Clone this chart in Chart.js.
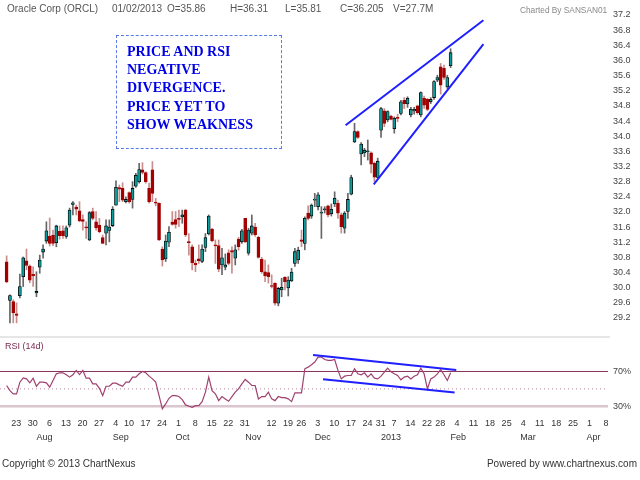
<!DOCTYPE html>
<html>
<head>
<meta charset="utf-8">
<script src="https://cdn.jsdelivr.net/npm/chart.js"></script>
<style>
  body { margin: 0; background: #fff; }
  #wrap { position: relative; width: 640px; height: 480px; overflow: hidden;
          font-family: "Liberation Sans", Arial, sans-serif; }
  .t { position: absolute; white-space: nowrap; font-size: 10px; line-height: 12px; color: #555; }
  #priceChart { position: absolute; left: 0; top: 0; }
  #rsiChart { position: absolute; left: 0; top: 337px; }
  #sep { position: absolute; left: 0; top: 336px; width: 610px; height: 2px; background: #e6e6e6; }
  #note { position: absolute; left: 116px; top: 35px; width: 166px; height: 114px; box-sizing: border-box;
          border: 1.5px dashed #5a78e6; padding: 7px 0 0 10px;
          font-family: "Liberation Serif", "Times New Roman", serif; font-weight: bold;
          font-size: 14px; line-height: 18.2px; color: #0000e6; }
</style>
</head>
<body>
<div id="wrap">
  <canvas id="priceChart" width="640" height="337"></canvas>
  <div id="sep"></div>
  <canvas id="rsiChart" width="640" height="143"></canvas>

  <div class="t" style="left:7px;top:3px;">Oracle Corp (ORCL)</div>
  <div class="t" style="left:112px;top:3px;">01/02/2013</div>
  <div class="t" id="hO" style="left:167px;top:3px;"></div>
  <div class="t" id="hH" style="left:230px;top:3px;"></div>
  <div class="t" id="hL" style="left:285px;top:3px;"></div>
  <div class="t" id="hC" style="left:340px;top:3px;"></div>
  <div class="t" style="left:393px;top:3px;">V=27.7M</div>
  <div class="t" style="left:520px;top:4px;font-size:8.3px;color:#888;">Charted By SANSAN01</div>

  <div id="note">PRICE AND RSI<br>NEGATIVE<br>DIVERGENCE.<br>PRICE YET TO<br>SHOW WEAKNESS</div>

  <div class="t" style="left:5px;top:340px;font-size:9px;color:#7b2b50;">RSI (14d)</div>
  <div class="t" style="left:2px;top:458px;color:#333;">Copyright © 2013 ChartNexus</div>
  <div class="t" style="right:3px;top:458px;color:#333;">Powered by www.chartnexus.com</div>
</div>

<script>
  // daily candles, trading days 19 Jul 2012 .. 1 Feb 2013 (index = trading day)
  var opens = [
    30.68, 29.66, 29.63, 29.31, 29.79, 30.29, 30.71, 30.57, 30.35, 29.86,
    30.54, 30.94, 31.23, 31.36, 31.38, 31.19, 31.49, 31.5, 31.35, 31.65,
    32.2, 32.13, 32.03, 31.8, 31.6, 31.26, 32.01, 31.74, 31.65, 31.32,
    31.44, 31.51, 31.64, 32.18, 32.64, 32.62, 32.27, 32.51, 32.33, 32.68,
    32.8, 33.11, 33.04, 32.62, 33.11, 32.26, 32.23, 31.02, 30.76, 31.2,
    31.73, 31.8, 31.83, 31.87, 32.05, 31.22, 31.08, 30.64, 30.76, 30.69,
    31.06, 31.42, 31.55, 31.13, 31.11, 30.6, 30.54, 30.92, 30.98, 30.78,
    31.28, 31.21, 31.83, 30.91, 31.44, 31.6, 31.33, 30.75, 30.42, 30.4,
    30.05, 30.12, 29.59, 29.94, 30.27, 29.99, 30.18, 30.64, 30.73, 31.26,
    31.17, 31.97, 31.89, 32.31, 32.14, 31.97, 32.05, 32.16, 31.95, 32.21,
    32.23, 31.92, 31.57, 32.01, 32.47, 33.85, 34.12, 33.53, 33.56, 33.59,
    33.56, 33.28, 32.91, 34.16, 34.67, 34.43, 34.53, 34.2, 34.49, 34.6,
    34.95, 34.85, 34.56, 34.67, 34.8, 34.56, 35.0, 34.97, 34.91, 35.02,
    35.48, 35.83, 35.79, 35.3, 35.86
  ];
  var highs = [
    30.84, 29.81, 29.68, 29.6, 30.36, 30.81, 31.02, 30.6, 30.55, 30.42,
    30.86, 31.13, 31.74, 31.84, 31.52, 31.65, 31.63, 31.63, 31.63, 32.1,
    32.27, 32.18, 32.27, 31.92, 31.74, 32.01, 32.1, 32.01, 31.83, 31.39,
    31.79, 31.79, 32.14, 32.82, 32.71, 32.77, 32.4, 32.53, 32.8, 33.02,
    33.28, 33.3, 33.06, 32.76, 33.33, 32.36, 32.24, 31.08, 31.39, 31.61,
    32.01, 32.01, 32.05, 32.05, 32.07, 31.43, 31.13, 30.73, 31.13, 31.13,
    31.43, 31.92, 31.57, 31.26, 31.26, 31.04, 30.89, 31.0, 31.08, 31.13,
    31.33, 31.54, 31.83, 31.57, 31.92, 31.7, 31.36, 30.8, 30.73, 30.6,
    30.34, 30.13, 30.01, 30.25, 30.29, 30.29, 30.51, 31.04, 31.07, 31.52,
    31.87, 32.16, 32.21, 32.49, 32.51, 32.14, 32.14, 32.18, 32.21, 32.53,
    32.31, 31.97, 32.01, 32.49, 32.97, 34.34, 34.14, 33.83, 33.68, 33.9,
    33.59, 33.32, 33.42, 34.76, 34.73, 34.67, 34.56, 34.51, 34.58, 34.95,
    35.02, 35.04, 34.76, 34.76, 34.82, 35.17, 35.06, 35.0, 35.02, 35.47,
    35.61, 35.92, 35.88, 35.61, 36.31
  ];
  var lows = [
    30.13, 29.07, 29.07, 29.07, 29.73, 30.03, 30.47, 30.13, 30.03, 29.76,
    30.38, 30.78, 31.17, 31.1, 31.11, 31.08, 31.28, 31.3, 31.3, 31.6,
    31.92, 31.92, 31.74, 31.52, 31.3, 31.24, 31.79, 31.52, 31.45, 31.17,
    31.13, 31.21, 31.61, 32.18, 32.27, 32.27, 32.24, 32.23, 32.1, 32.65,
    32.76, 33.0, 32.76, 32.23, 32.27, 32.16, 31.24, 30.57, 30.69, 31.08,
    31.65, 31.57, 31.61, 31.7, 31.35, 30.86, 30.47, 30.42, 30.64, 30.66,
    30.95, 31.39, 31.21, 30.64, 30.42, 30.34, 30.47, 30.6, 30.38, 30.6,
    30.99, 31.17, 31.19, 30.86, 31.39, 31.35, 30.78, 30.38, 30.16, 30.12,
    29.99, 29.54, 29.52, 29.76, 29.94, 29.78, 30.16, 30.56, 30.64, 31.08,
    31.0, 31.79, 31.83, 32.14, 32.05, 31.3, 31.97, 31.87, 31.89, 32.14,
    31.83, 31.44, 31.44, 31.83, 32.45, 33.83, 33.94, 33.24, 33.46, 33.37,
    33.03, 32.8, 32.89, 33.97, 34.25, 34.38, 34.43, 34.08, 34.38, 34.56,
    34.73, 34.76, 34.51, 34.58, 34.58, 34.51, 34.73, 34.67, 34.86, 34.97,
    35.44, 35.11, 35.5, 35.26, 35.81
  ];
  var closes = [
    30.15, 29.79, 29.33, 29.27, 30.03, 30.79, 30.59, 30.2, 30.31, 29.9,
    30.73, 31.02, 31.5, 31.17, 31.17, 31.63, 31.37, 31.37, 31.58, 32.05,
    32.24, 32.07, 31.76, 31.75, 31.58, 31.98, 31.83, 31.58, 31.48, 31.17,
    31.63, 31.6, 32.07, 32.65, 32.6, 32.31, 32.33, 32.27, 32.62, 32.97,
    33.12, 33.04, 32.8, 32.27, 32.49, 32.23, 31.26, 30.73, 31.23, 31.46,
    31.67, 31.67, 31.8, 31.92, 31.39, 31.19, 30.66, 30.6, 30.71, 31.02,
    31.32, 31.89, 31.24, 31.1, 30.49, 30.79, 30.6, 30.64, 30.94, 31.0,
    31.08, 31.5, 31.21, 31.52, 31.63, 31.4, 30.8, 30.42, 30.31, 30.29,
    30.03, 29.59, 29.98, 30.01, 30.16, 30.2, 30.41, 30.95, 30.99, 31.22,
    31.83, 31.83, 32.18, 32.34, 32.45, 31.99, 32.08, 31.92, 32.07, 32.36,
    31.97, 31.61, 31.97, 32.33, 32.91, 34.12, 33.97, 33.79, 33.63, 33.61,
    33.26, 32.92, 33.34, 34.73, 34.34, 34.65, 34.44, 34.47, 34.47, 34.91,
    34.86, 35.0, 34.71, 34.71, 34.62, 35.15, 34.82, 34.71, 34.97, 35.44,
    35.55, 35.35, 35.55, 35.55, 36.205
  ];

  // RSI (14d), one value per trading day
  var rsi = [
    53.9, 48, 44.3, 44.3, 57.7, 62.7, 61.5, 57, 62.3, 53,
    57.7, 57.7, 57, 51.9, 59.6, 67.3, 68.5, 68.5, 66.2, 63.5,
    66.2, 71.2, 66.5, 71.2, 62.3, 62.3, 55.8, 55.8, 50.7, 42.3,
    53, 53, 56.5, 56.5, 54.6, 53, 57.7, 57.7, 63.5, 63.5,
    67.3, 70, 68.5, 64.6, 61.5, 57.7, 42.3, 27, 32.7, 39.2,
    42.3, 42.3, 41.2, 37.7, 31.6, 30, 28.8, 30.8, 30.8, 35.4,
    46.2, 63.5, 48, 44.3, 36.5, 41.2, 38.5, 35.8,
    41.2, 46.2, 50, 55.8, 60.8, 57.7, 53.9, 53.9, 38.5, 41.2,
    41.2, 46.2, 38.5, 36.5, 41.2, 40, 40, 38.5, 35.4, 45.4,
    45.4, 45.4, 73.1, 75, 77.7, 80.8, 86.5, 86.5, 83.8, 82.7,
    82.7, 83.8, 71.2, 61.5, 64.6, 65.4, 65.4, 73.1, 67.3, 66.2,
    68.5, 63.5, 67.3, 62.3, 61.5, 64.6, 69.2, 73.8, 69.6, 67.3,
    65.4, 60.4, 63.5, 64.6, 61.5, 64.6, 66.2, 73.8, 67.3, 50,
    61.5, 63.5, 67.3, 72.3, 66.2, 59.6, 68.5
  ];

  // hand drawn trend lines [trading-day index, value]
  var priceUpperTrend = [[102.3, 34.29], [143.9, 37.06]];
  var priceLowerTrend = [[110.8, 32.73], [143.9, 36.43]];
  var rsiUpperTrend = [[92.5, 88.9], [135.7, 71.6]];
  var rsiLowerTrend = [[95.5, 61.2], [135.2, 45.9]];
  var rsiLevels = [70, 50, 30];

  // axis labels (future days after 1 Feb are plain weekdays)
  var priceTicks = [29.2, 29.6, 30.0, 30.4, 30.8, 31.2, 31.6, 32.0, 32.4, 32.8, 33.2,
                    33.6, 34.0, 34.4, 34.8, 35.2, 35.6, 36.0, 36.4, 36.8, 37.2];
  var dayTickIdx = [2, 7, 12, 17, 22, 27, 32, 36, 41, 46, 51, 56, 61, 66, 71, 79, 84, 88,
                    93, 98, 103, 108, 112, 116, 121, 126, 130, 135, 140, 145, 150, 155,
                    160, 165, 170, 175, 180];
  var dayTickText = ['23', '30', '6', '13', '20', '27', '4', '10', '17', '24', '1', '8', '15',
                     '22', '31', '12', '19', '26', '3', '10', '17', '24', '31', '7', '14',
                     '22', '28', '4', '11', '18', '25', '4', '11', '18', '25', '1', '8'];
  var monthTickIdx = [9, 32, 51, 72, 93, 113, 134, 155, 175];
  var monthTickText = ['Aug', 'Sep', 'Oct', 'Nov', 'Dec', '2013', 'Feb', 'Mar', 'Apr'];

  var xMin = -2, xMax = 181.5;
  var up = '#0c9c9c', down = '#a30000';

  Chart.defaults.font.family = "'Liberation Sans', Arial, sans-serif";
  Chart.defaults.font.size = 9;
  Chart.defaults.color = '#444';

  var last = opens.length - 1;
  document.getElementById('hO').textContent = 'O=' + opens[last];
  document.getElementById('hH').textContent = 'H=' + highs[last];
  document.getElementById('hL').textContent = 'L=' + lows[last];
  document.getElementById('hC').textContent = 'C=' + closes[last];

  var wickData = [], bodyData = [], rsiData = [];
  opens.forEach(function (o, i) {
    wickData.push({ x: i, y: [lows[i], highs[i]] });
    bodyData.push({ x: i, y: [o, closes[i]] });
    rsiData.push({ x: i, y: rsi[i] });
  });
  function isUp(i) { return closes[i] >= opens[i]; }
  function pts(a) { return a.map(function (p) { return { x: p[0], y: p[1] }; }); }
  function trend(a) {
    return { type: 'line', data: pts(a), borderColor: '#1f1fff', borderWidth: 2,
             pointRadius: 0, order: 0 };
  }
  // no automatic label padding, so the plot boxes sit where the reference has them
  function noPad(ax) { ax.paddingTop = 0; ax.paddingBottom = 0; ax.paddingLeft = 0; ax.paddingRight = 0; }
  function fixWidth(ax) { ax.width = 32; noPad(ax); }
  function fixHeight(ax) { ax.height = 14; noPad(ax); }
  var noGrid = { display: false, drawTicks: false };

  new Chart(document.getElementById('priceChart'), {
    type: 'bar',
    data: {
      datasets: [
        {
          data: wickData, grouped: false, barThickness: 1, order: 2,
          backgroundColor: function (c) { return isUp(c.dataIndex) ? '#666' : '#c98c8c'; }
        },
        {
          data: bodyData, grouped: false, barThickness: 3, minBarLength: 1, order: 1,
          borderSkipped: false, borderWidth: 0.8,
          backgroundColor: function (c) { return isUp(c.dataIndex) ? up : down; },
          borderColor: function (c) { return isUp(c.dataIndex) ? '#000' : down; }
        },
        trend(priceUpperTrend),
        trend(priceLowerTrend)
      ]
    },
    options: {
      responsive: false,
      animation: false,
      layout: { padding: { top: 15, bottom: 2, left: 0, right: 0 } },
      plugins: { legend: { display: false }, tooltip: { enabled: false } },
      scales: {
        x: { type: 'linear', min: xMin, max: xMax, offset: false, display: false },
        y: {
          position: 'right', min: 28.75, max: 37.2,
          afterBuildTicks: function (ax) { ax.ticks = priceTicks.map(function (v) { return { value: v }; }); },
          afterFit: fixWidth,
          grid: noGrid, border: { display: false },
          ticks: { padding: 5, callback: function (v) { return v.toFixed(1); } }
        }
      }
    }
  });

  var levelStyle = {
    70: { color: '#86325a', width: 1, dash: [] },
    50: { color: '#b8849e', width: 1, dash: [1, 3] },
    30: { color: '#dac6ce', width: 2.5, dash: [] }
  };
  var levelSets = rsiLevels.map(function (v) {
    return {
      type: 'line', data: [{ x: xMin, y: v }, { x: xMax, y: v }],
      borderColor: levelStyle[v].color, borderWidth: levelStyle[v].width,
      borderDash: levelStyle[v].dash, pointRadius: 0, order: 3
    };
  });

  new Chart(document.getElementById('rsiChart'), {
    type: 'line',
    data: {
      datasets: levelSets.concat([
        { data: rsiData, borderColor: '#a0406e', borderWidth: 1.2, pointRadius: 0, order: 1 },
        trend(rsiUpperTrend),
        trend(rsiLowerTrend)
      ])
    },
    options: {
      responsive: false,
      animation: false,
      layout: { padding: { top: 4, bottom: 37, left: 0, right: 0 } },
      plugins: { legend: { display: false }, tooltip: { enabled: false } },
      scales: {
        x: {
          type: 'linear', min: xMin, max: xMax, position: 'bottom', weight: 0,
          afterBuildTicks: function (ax) { ax.ticks = dayTickIdx.map(function (v) { return { value: v }; }); },
          afterFit: fixHeight,
          grid: noGrid, border: { display: false },
          ticks: {
            autoSkip: false, maxRotation: 0, padding: 3, labelOffset: 3, color: '#333',
            callback: function (v) { return dayTickText[dayTickIdx.indexOf(v)]; }
          }
        },
        xm: {
          type: 'linear', min: xMin, max: xMax, position: 'bottom', weight: 1,
          afterBuildTicks: function (ax) { ax.ticks = monthTickIdx.map(function (v) { return { value: v }; }); },
          afterFit: fixHeight,
          grid: noGrid, border: { display: false },
          ticks: {
            autoSkip: false, maxRotation: 0, padding: 3, align: 'start', color: '#333',
            callback: function (v) { return monthTickText[monthTickIdx.indexOf(v)]; }
          }
        },
        y: {
          position: 'right', min: 20, max: 105,
          afterBuildTicks: function (ax) { ax.ticks = [{ value: 30 }, { value: 70 }]; },
          afterFit: fixWidth,
          grid: noGrid, border: { display: false },
          ticks: { padding: 5, callback: function (v) { return v + '%'; } }
        }
      }
    }
  });
</script>
</body>
</html>
